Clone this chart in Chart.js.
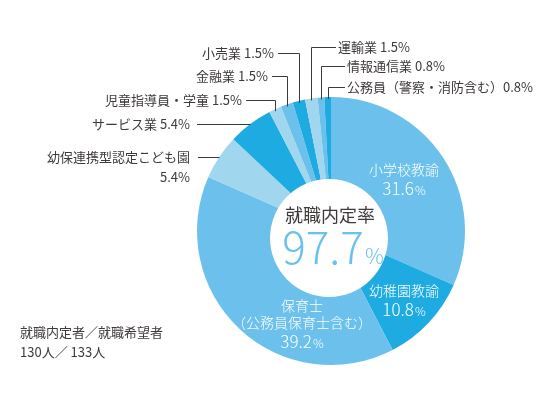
<!DOCTYPE html>
<html lang="ja">
<head>
<meta charset="UTF-8">
<title>就職内定率</title>
<script src="https://cdn.jsdelivr.net/npm/chart.js"></script>
<style>
    html, body { margin: 0; padding: 0; background: #fff; }
    #wrap { width: 548px; height: 410px; }
</style>
</head>
<body>
<div id="wrap"><canvas id="grafico" width="548" height="410"></canvas></div>
<script>
    // データ（上から時計回り）
    const categories = ['小学校教諭', '幼稚園教諭', '保育士', '幼保連携型認定こども園', 'サービス業',
        '児童指導員・学童', '金融業', '小売業', '運輸業', '情報通信業', '公務員（警察・消防含む）'];
    const shares = [31.6, 10.8, 39.2, 5.4, 5.4, 1.5, 1.5, 1.5, 1.5, 0.8, 0.8];
    const notes = ['', '', '（公務員保育士含む）', '', '', '', '', '', '', '', ''];
    const rateTitle = '就職内定率';
    const rateValue = 97.7;
    const hired = 130;
    const applicants = 133;

    const MID = '#6cc1ec', DARK = '#1eabe2', LIGHT = '#a0d7ef';
    const colors = [MID, DARK, MID, LIGHT, DARK, LIGHT, MID, DARK, LIGHT, MID, DARK];
    const INK = '#3e3a39';
    const FONT = '"Noto Sans CJK JP", "Noto Sans", sans-serif';

    // ラベル配置（内側: 中心からのずれ / 外側: 引き出し線）
    const inside = { 0: [73, -52], 1: [73, 69], 2: [-29, 84] };
    const outside = {
        3: { side: 'left', textX: 190, lineX: 198, twoLines: true },
        4: { side: 'left', textX: 190, lineX: 197 },
        5: { side: 'left', textX: 242, lineX: 246, y: 100 },
        6: { side: 'left', textX: 268, lineX: 272, y: 76 },
        7: { side: 'left', textX: 274, lineX: 278, y: 53 },
        8: { side: 'right', textX: 338, lineX: 336, y: 47 },
        9: { side: 'right', textX: 347, lineX: 345, y: 66 },
        10: { side: 'right', textX: 347, lineX: 345, y: 87 }
    };

    function pct(v) { return v.toFixed(1) + '%'; }

    function drawBigPct(ctx, x, y, value, numSize, pSize, color) {
        const num = value.toFixed(1);
        ctx.font = '300 ' + numSize + 'px ' + FONT;
        const w1 = ctx.measureText(num).width;
        ctx.font = '300 ' + pSize + 'px ' + FONT;
        const w2 = ctx.measureText('%').width;
        const x0 = x - (w1 + w2 + 1) / 2;
        ctx.fillStyle = color;
        ctx.textAlign = 'left';
        ctx.textBaseline = 'alphabetic';
        ctx.font = '300 ' + numSize + 'px ' + FONT;
        ctx.fillText(num, x0, y);
        ctx.font = '300 ' + pSize + 'px ' + FONT;
        ctx.fillText('%', x0 + w1 + 1, y);
    }

    const labelPlugin = {
        id: 'labels',
        afterDatasetsDraw(chart) {
            const ctx = chart.ctx;
            const arcs = chart.getDatasetMeta(0).data;
            const cx = arcs[0].x, cy = arcs[0].y, r = arcs[0].outerRadius;
            ctx.save();

            // 中央の白い円
            const hx = cx - 2, hy = cy + 7, hr = r * 0.44;
            ctx.beginPath();
            ctx.arc(hx, hy, hr, 0, Math.PI * 2);
            ctx.fillStyle = '#fff';
            ctx.fill();

            ctx.textAlign = 'center';
            ctx.textBaseline = 'middle';
            ctx.fillStyle = INK;
            ctx.font = '18px ' + FONT;
            ctx.fillText(rateTitle, hx + 1, hy - 23);
            drawBigPct(ctx, hx + 4, hy + 26, rateValue, 44, 21, MID);

            // 内側ラベル
            Object.keys(inside).forEach(k => {
                const i = +k;
                const lx = cx + inside[i][0], ly = cy + inside[i][1];
                ctx.fillStyle = '#fff';
                ctx.textAlign = 'center';
                ctx.textBaseline = 'middle';
                ctx.font = '300 14px ' + FONT;
                let y = ly - 9;
                ctx.fillText(categories[i], lx, y);
                if (notes[i]) {
                    y += 17;
                    ctx.fillText(notes[i], lx, y);
                }
                drawBigPct(ctx, lx, y + 25, shares[i], 17, 12, '#fff');
            });

            // 外側ラベルと引き出し線
            ctx.strokeStyle = INK;
            ctx.lineWidth = 1;
            Object.keys(outside).forEach(k => {
                const i = +k;
                const o = outside[i];
                const a = arcs[i];
                const mid = (a.startAngle + a.endAngle) / 2;
                const px = Math.round(cx + Math.cos(mid) * r) + 0.5;
                const py = cy + Math.sin(mid) * r;
                ctx.beginPath();
                let ty;
                if (o.y === undefined) {
                    ty = Math.round(py) + 0.5;
                    ctx.moveTo(o.lineX, ty);
                    ctx.lineTo(px, ty);
                } else {
                    ty = o.y + 0.5;
                    ctx.moveTo(o.lineX, ty);
                    ctx.lineTo(px, ty);
                    ctx.lineTo(px, py + 2);
                }
                ctx.stroke();

                ctx.fillStyle = INK;
                ctx.textBaseline = 'middle';
                ctx.font = '13px ' + FONT;
                ctx.textAlign = o.side === 'left' ? 'right' : 'left';
                const name = categories[i];
                if (o.twoLines) {
                    ctx.fillText(name, o.textX, ty);
                    ctx.fillText(pct(shares[i]), o.textX, ty + 20);
                } else {
                    const sep = name.endsWith('）') ? '' : ' ';
                    ctx.fillText(name + sep + pct(shares[i]), o.textX, ty);
                }
            });

            // 左下の注記
            ctx.fillStyle = INK;
            ctx.textAlign = 'left';
            ctx.textBaseline = 'middle';
            ctx.font = '13px ' + FONT;
            ctx.fillText('就職内定者／就職希望者', 20, 332);
            ctx.fillText(hired + '人／ ' + applicants + '人', 20, 352);

            ctx.restore();
        }
    };

    Chart.defaults.font.family = FONT;

    new Chart(document.getElementById('grafico').getContext('2d'), {
        type: 'doughnut',
        data: {
            labels: categories,
            datasets: [{
                data: shares,
                backgroundColor: colors,
                borderWidth: 0
            }]
        },
        options: {
            responsive: false,
            animation: false,
            cutout: 0,
            layout: { padding: { left: 197, right: 83, top: 97, bottom: 45 } },
            plugins: {
                legend: { display: false },
                tooltip: { enabled: false }
            }
        },
        plugins: [labelPlugin]
    });
</script>
</body>
</html>
